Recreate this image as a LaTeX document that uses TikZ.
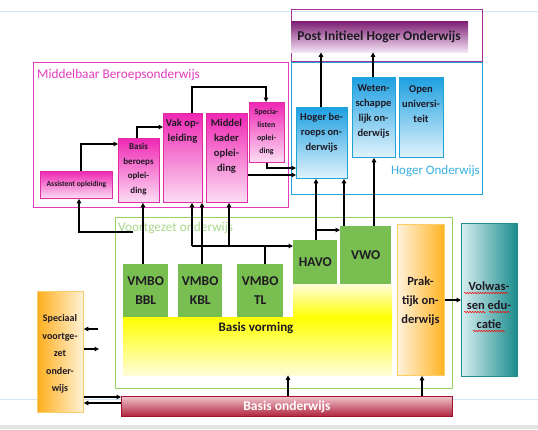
\documentclass[tikz,border=0pt]{standalone}
\usepackage{fontspec}
\setmainfont{Carlito}
\usetikzlibrary{arrows.meta,decorations.pathmorphing}
\definecolor{mboline}{RGB}{228,60,190}
\definecolor{mbotop}{RGB}{240,40,180}
\definecolor{mbobot}{RGB}{252,222,244}
\definecolor{mboedge}{RGB}{225,45,165}
\definecolor{hoedge}{RGB}{30,165,215}
\definecolor{hotop}{RGB}{30,160,225}
\definecolor{hobot}{RGB}{225,243,252}
\definecolor{holabel}{RGB}{55,175,225}
\definecolor{pihoedge}{RGB}{165,50,155}
\definecolor{pihotop}{RGB}{125,30,115}
\definecolor{pihobot}{RGB}{245,228,245}
\definecolor{voedge}{RGB}{150,210,95}
\definecolor{volabel}{RGB}{170,215,140}
\definecolor{vmbo}{RGB}{120,190,80}
\definecolor{yel}{RGB}{255,255,0}
\definecolor{yelpale}{RGB}{255,253,215}
\definecolor{prakL}{RGB}{255,242,220}
\definecolor{prakR}{RGB}{255,180,35}
\definecolor{prakedge}{RGB}{255,205,100}
\definecolor{volL}{RGB}{215,238,240}
\definecolor{volR}{RGB}{25,140,140}
\definecolor{voledge}{RGB}{35,140,140}
\definecolor{svoL}{RGB}{255,175,30}
\definecolor{svoR}{RGB}{255,242,215}
\definecolor{svoedge}{RGB}{245,205,110}
\definecolor{boTop}{RGB}{240,195,202}
\definecolor{boBot}{RGB}{175,35,60}
\definecolor{boedge}{RGB}{160,20,50}
\definecolor{ink}{RGB}{30,25,35}
\definecolor{pageline}{RGB}{210,228,245}
\definecolor{pagegray}{RGB}{228,228,228}
% box macro: name, style, x1, y1, x2, y2, text
\newcommand\bx[7]{\node[#2, anchor=north west, inner sep=0pt, minimum width={(#5-#3)*1pt}, minimum height={(#6-#4)*1pt}] (#1) at (#3,#4) {#7};}
\begin{document}
\begin{tikzpicture}[x=1pt,y=-1pt,
  mbobox/.style={draw=mboedge, line width=0.8pt, top color=mbotop, bottom color=mbobot},
  hobox/.style={draw=hoedge, line width=0.8pt, top color=hotop, bottom color=hobot},
  vmbobox/.style={fill=vmbo, draw=none},
  txt/.style={align=center, inner sep=0pt, text=ink},
  arr/.style={line width=1.2pt, -{Triangle[length=4.5pt,width=4.5pt]}},
  ln/.style={line width=1.2pt},
  frame/.style={line width=1.2pt},
  wave/.style={red, line width=0.5pt, decorate, decoration={snake, amplitude=0.7pt, segment length=2.6pt}}]
\useasboundingbox (0,0) rectangle (538,429);
% page lines
\draw[pageline, line width=1pt] (0,11) -- (538,11);
\draw[pageline, line width=0.8pt] (0,399) -- (538,399);
\fill[pagegray] (0,425) rectangle (538,429);

% ---------- MBO ----------
\bx{mbo}{draw=mboline, frame, fill=white}{33}{62}{288}{207}{}
\node[anchor=west, inner sep=0pt, text=mboline, font=\fontsize{13.3}{15}\selectfont] (mbolabel) at (37,75) {Middelbaar Beroepsonderwijs};
\bx{ass}{mbobox}{40}{171}{112}{198}{}
\node[txt, font=\bfseries\fontsize{7.6}{9}\selectfont] (asst) at (ass.center) {Assistent opleiding};
\bx{bbo}{mbobox}{118}{138}{159}{202}{}
\node[txt, font=\bfseries\fontsize{9}{14.5}\selectfont] (bbot) at (138.5,169) {Basis\\beroeps\\oplei-\\ding};
\bx{vak}{mbobox}{163}{113}{202}{202}{}
\node[txt, font=\bfseries\fontsize{10.6}{15}\selectfont] (vakt) at (182.5,131) {Vak op-\\leiding};
\bx{mk}{mbobox}{206}{113}{247}{202}{}
\node[txt, font=\bfseries\fontsize{10.6}{15}\selectfont] (mkt) at (226.5,146) {Middel\\kader\\oplei-\\ding};
\bx{spec}{mbobox}{249}{102}{284}{162}{}
\node[txt, font=\bfseries\fontsize{8}{13}\selectfont] (spect) at (266.5,132) {Specia-\\listen\\oplei-\\ding};

% ---------- PIHO ----------
\bx{pihoframe}{draw=pihoedge, frame}{291}{9}{482}{61}{}
\bx{piho}{top color=pihotop, bottom color=pihobot, draw=none}{291}{21}{468}{52}{}
\node[txt, font=\bfseries\fontsize{13.5}{15}\selectfont] (pihot) at (379,37) {Post Initieel Hoger Onderwijs};

% ---------- HO ----------
\bx{ho}{draw=hoedge, frame}{291}{62}{482}{194}{}
\node[anchor=east, inner sep=0pt, text=holabel, font=\fontsize{13}{15}\selectfont] (holabel) at (480,171) {Hoger Onderwijs};
\bx{hbo}{hobox}{296}{107}{347}{178}{}
\node[txt, font=\bfseries\fontsize{10.5}{15}\selectfont] (hbot) at (321.5,133) {Hoger be-\\roeps on-\\derwijs};
\bx{wo}{hobox}{352}{77}{395}{157}{}
\node[txt, font=\bfseries\fontsize{10.5}{15}\selectfont] (wot) at (373.5,111) {Weten-\\schappe\\lijk on-\\derwijs};
\bx{ou}{hobox}{399}{77}{443}{157}{}
\node[txt, font=\bfseries\fontsize{10.5}{15}\selectfont] (out) at (421,104) {Open\\universi-\\teit};

% ---------- VO ----------
\bx{vo}{draw=voedge, line width=1pt}{115}{217}{452}{388}{}
\bx{bvtop}{top color=yelpale, bottom color=yel, draw=none}{293}{284}{392}{318}{}
\bx{bv}{top color=yel, bottom color=yelpale, draw=none}{123}{317}{392}{375}{}
\node[anchor=west, inner sep=0pt, text=volabel, font=\fontsize{13.3}{15}\selectfont] (volabel) at (118,228) {Voortgezet onderwijs};
\bx{v1}{vmbobox}{123}{264}{168}{317}{}
\node[txt, font=\bfseries\fontsize{13.5}{19}\selectfont] (v1t) at (v1.center) {VMBO\\BBL};
\bx{v2}{vmbobox}{178}{264}{222}{317}{}
\node[txt, font=\bfseries\fontsize{13.5}{19}\selectfont] (v2t) at (v2.center) {VMBO\\KBL};
\bx{v3}{vmbobox}{237}{264}{283}{317}{}
\node[txt, font=\bfseries\fontsize{13.5}{19}\selectfont] (v3t) at (v3.center) {VMBO\\TL};
\bx{havo}{vmbobox}{293}{240}{337}{284}{}
\node[txt, font=\bfseries\fontsize{13.5}{15}\selectfont] (havot) at (havo.center) {HAVO};
\bx{vwo}{vmbobox}{340}{226}{391}{284}{}
\node[txt, font=\bfseries\fontsize{13.5}{15}\selectfont] (vwot) at (vwo.center) {VWO};
\node[txt, font=\bfseries\fontsize{13}{15}\selectfont] (bvt) at (256,328) {Basis vorming};
\bx{prak}{draw=prakedge, line width=0.8pt, left color=prakL, right color=prakR}{397}{224}{444}{375}{}
\node[txt, font=\bfseries\fontsize{12.5}{19}\selectfont] (prakt) at (420.5,301) {Prak-\\tijk on-\\derwijs};
\bx{volw}{draw=voledge, line width=0.8pt, left color=volL, right color=volR}{461}{223}{517}{376}{}
\node[txt, font=\bfseries\fontsize{12.5}{19}\selectfont] (volwt) at (489,305) {Volwas-\\sen edu-\\catie};
\draw[wave] (464,293) -- (508,293);
\draw[wave] (464,312) -- (486,312);
\draw[wave] (489,312) -- (510,312);
\draw[wave] (473,331) -- (505,331);
\bx{svo}{draw=svoedge, line width=0.8pt, left color=svoL, right color=svoR}{37}{291}{83}{412}{}
\node[txt, font=\bfseries\fontsize{10}{17.5}\selectfont] (svot) at (60,354) {Speciaal\\voortge-\\zet\\onder-\\wijs};
\bx{bo}{draw=boedge, line width=0.8pt, top color=boTop, bottom color=boBot}{121}{396}{452}{416}{}
\node[txt, text=white, font=\bfseries\fontsize{13.5}{15}\selectfont] (bot) at (bo.center) {Basis onderwijs};

% ---------- connectors ----------
\draw[arr] (ass.north -| 81,0) |- (bbo.west |- 0,144);
\draw[arr] (bbo.north -| 137,0) |- (vak.west |- 0,127);
\draw[arr] (vak.north -| 192,0) |- (229,87) -| (spec.north -| 266,0);
\draw[arr] (spec.south -| 267,0) |- (hbo.west |- 0,168);
\draw[arr] (mk.east |- 0,175) -- (hbo.west |- 0,175);
\draw[arr] (hbo.north -| 321,0) -- (piho.south -| 321,0);
\draw[arr] (wo.north -| 373,0) -- (piho.south -| 373,0);
\draw[arr] (133,232) -| (ass.south -| 79,0);
\draw[arr] (v1.north -| 143,0) -- (bbo.south -| 143,0);
\draw[arr] (v2.north -| 202,0) -- (vak.south -| 202,0);
\draw[arr] (192,246) -- (havo.west |- 0,246);
\draw[arr] (192,246) -- (vak.south -| 192,0);
\draw[arr] (229,246) -- (mk.south -| 229,0);
\draw[ln] (265,246) -- (v3.north -| 265,0);
\draw[arr] (havo.north -| 316,0) -- (hbo.south -| 316,0);
\draw[arr] (316,230) -- (vwo.west |- 0,230);
\draw[arr] (vwo.north -| 344,0) -- (hbo.south -| 344,0);
\draw[arr] (vwo.north -| 374,0) -- (wo.south -| 374,0);
\draw[arr] (98,329) -- (svo.east |- 0,329);
\draw[arr] (svo.east |- 0,349) -- (99,349);
\draw[arr] (svo.east |- 0,397) -- (bo.west |- 0,397);
\draw[arr] (bo.west |- 0,403) -- (svo.east |- 0,403);
\draw[arr] (bo.north -| 288,0) -- (bv.south -| 288,0);
\draw[arr] (bo.north -| 422,0) -- (prak.south -| 422,0);
\draw[arr] (prak.east |- 0,300) -- (volw.west |- 0,300);
\end{tikzpicture}
\end{document}
